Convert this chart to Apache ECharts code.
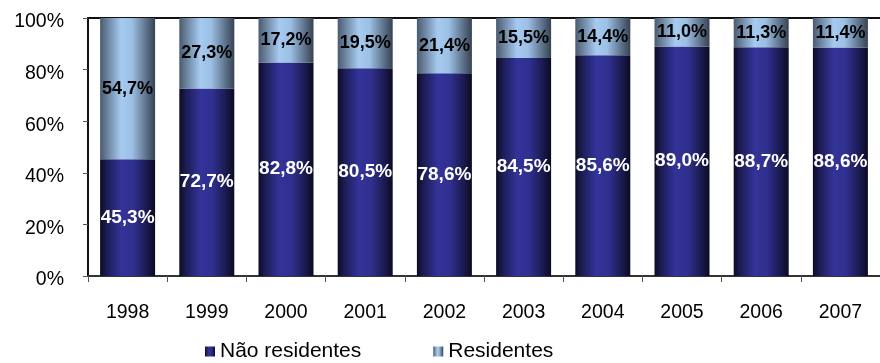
<!DOCTYPE html>
<html>
<head>
<meta charset="utf-8">
<script src="https://cdn.jsdelivr.net/npm/echarts@6/dist/echarts.min.js"></script>
<style>
  html, body { margin: 0; padding: 0; background: #fff; }
  #chart { width: 880px; height: 363px; }
</style>
</head>
<body>
<div id="chart"></div>
<script>
// Share of visitors by residence, 1998–2007 (percent of total)
var years = ['1998', '1999', '2000', '2001', '2002', '2003', '2004', '2005', '2006', '2007'];
var naoResidentes = [45.3, 72.7, 82.8, 80.5, 78.6, 84.5, 85.6, 89.0, 88.7, 88.6];
var residentes = [54.7, 27.3, 17.2, 19.5, 21.4, 15.5, 14.4, 11.0, 11.3, 11.4];
var yTicks = [0, 20, 40, 60, 80, 100];

var font = 'Arial, "Liberation Sans", sans-serif';

function pct(v) {
  return v.toFixed(1).replace('.', ',') + '%';
}

// Cylinder-like horizontal shading for the bars
var darkFill = new echarts.graphic.LinearGradient(0, 0, 1, 0, [
  { offset: 0, color: '#0c0c24' },
  { offset: 0.12, color: '#1c1c55' },
  { offset: 0.38, color: '#333399' },
  { offset: 0.6, color: '#303090' },
  { offset: 0.85, color: '#1a1a50' },
  { offset: 1, color: '#0b0b22' }
]);
var lightFill = new echarts.graphic.LinearGradient(0, 0, 1, 0, [
  { offset: 0, color: '#4b5b70' },
  { offset: 0.38, color: '#a6caf0' },
  { offset: 0.58, color: '#9cbfe4' },
  { offset: 1, color: '#364252' }
]);

var chart = echarts.init(document.getElementById('chart'), null, { renderer: 'canvas' });

chart.setOption({
  animation: false,
  backgroundColor: '#ffffff',
  textStyle: { fontFamily: font },
  grid: { left: 88, top: 18, width: 800, height: 258, containLabel: false },
  legend: {
    top: 341,
    left: 205,
    padding: 0,
    itemGap: 72,
    itemWidth: 10,
    itemHeight: 10,
    icon: 'rect',
    textStyle: { fontFamily: font, fontSize: 21, color: '#000' },
    data: ['Não residentes', 'Residentes']
  },
  xAxis: [{
    type: 'category',
    data: years,
    axisLine: { show: true, lineStyle: { color: '#333', width: 2 } },
    axisTick: { show: true, length: 6, lineStyle: { color: '#555', width: 1 } },
    axisLabel: { color: '#000', fontSize: 19.5, fontFamily: font, margin: 27 }
  }, {
    // top frame line at 100%
    type: 'category',
    data: years,
    position: 'top',
    axisLine: { show: true, lineStyle: { color: '#111', width: 2 } },
    axisTick: { show: false },
    axisLabel: { show: false }
  }],
  yAxis: {
    type: 'value',
    min: yTicks[0],
    max: yTicks[yTicks.length - 1],
    interval: 20,
    axisLine: { show: true, lineStyle: { color: '#111', width: 2 } },
    axisTick: { show: true, length: 5, lineStyle: { color: '#555', width: 1 } },
    splitLine: { show: false },
    axisLabel: {
      color: '#000', fontSize: 19.5, fontFamily: font, margin: 24,
      formatter: function (v) { return '{v|' + v + '%}'; },
      rich: {
        v: { color: '#000', fontSize: 19.5, fontFamily: font, padding: [8, 0, 0, 0] }
      }
    }
  },
  series: [{
    name: 'Não residentes',
    type: 'bar',
    stack: 'total',
    data: naoResidentes,
    barWidth: 55,
    itemStyle: { color: darkFill },
    label: {
      show: true, position: 'inside', color: '#fff', fontWeight: 'bold',
      fontSize: 19, fontFamily: font,
      formatter: function (p) { return pct(p.value); }
    }
  }, {
    name: 'Residentes',
    type: 'bar',
    stack: 'total',
    data: residentes,
    barWidth: 55,
    itemStyle: { color: lightFill },
    label: {
      show: true, position: 'inside', color: '#000', fontWeight: 'bold',
      fontSize: 18, fontFamily: font,
      formatter: function (p) { return pct(p.value); }
    }
  }]
});
</script>
</body>
</html>
